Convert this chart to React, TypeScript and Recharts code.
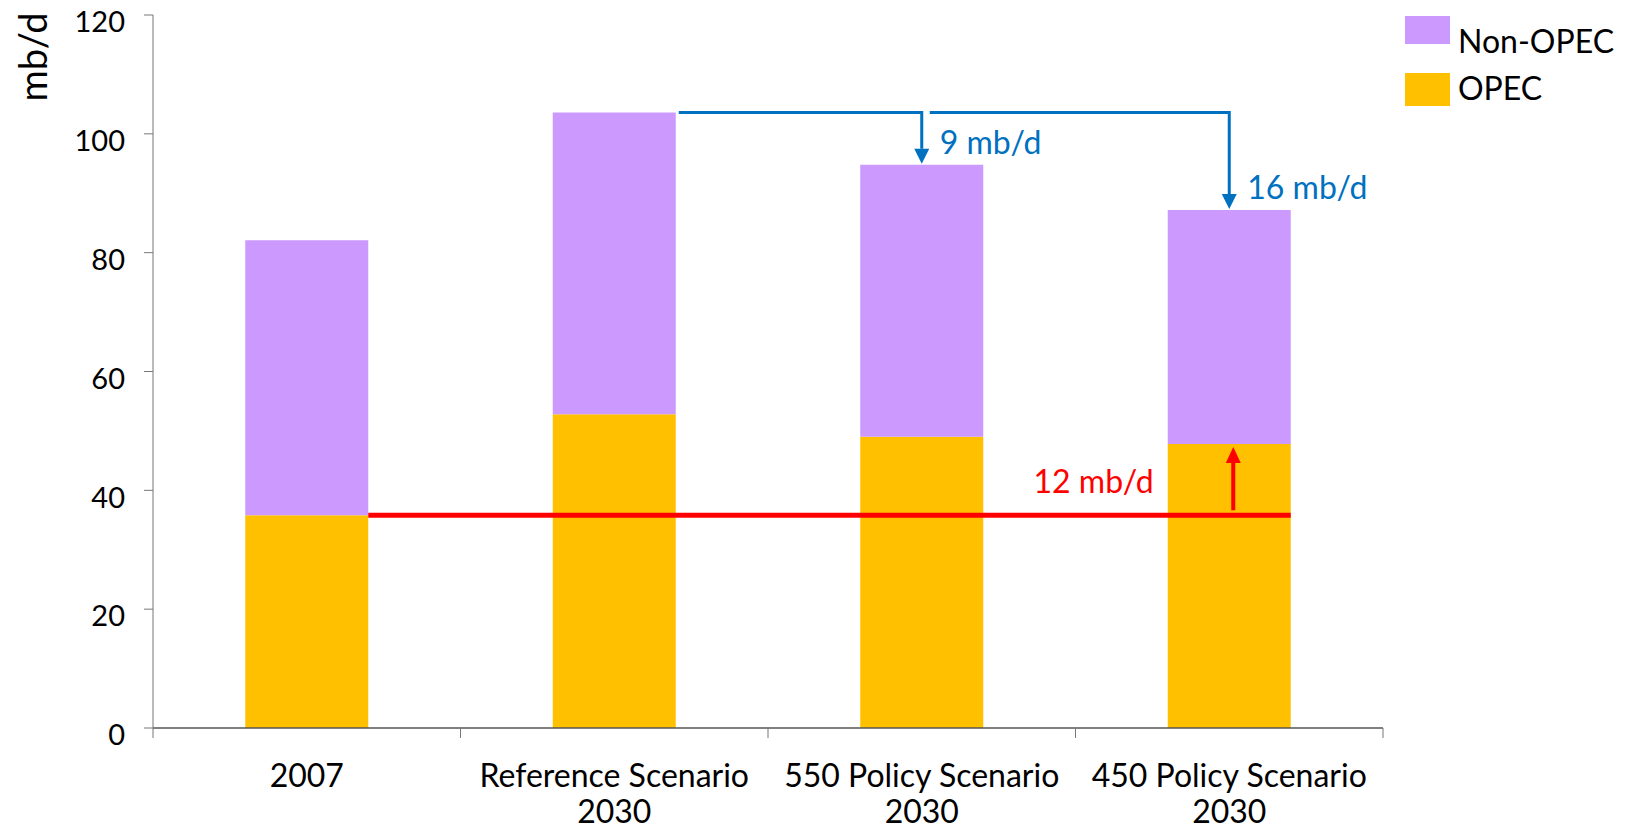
import React from 'react'
import { BarChart, Bar, XAxis, YAxis, Legend, ReferenceLine, Label } from 'recharts'

// Oil production by group, million barrels per day
const CATEGORIES = ['2007', 'Reference Scenario 2030', '550 Policy Scenario 2030', '450 Policy Scenario 2030']
const CATEGORY_LINES = [['2007'], ['Reference Scenario', '2030'], ['550 Policy Scenario', '2030'], ['450 Policy Scenario', '2030']]
const OPEC = [35.8, 52.8, 49.0, 47.8]
const NON_OPEC = [46.3, 50.8, 45.8, 39.4]
const Y_TICKS = [0, 20, 40, 60, 80, 100, 120]

const PURPLE = '#CC99FF'
const ORANGE = '#FFC000'
const BLUE = '#0070C0'
const RED = '#FF0000'
const FONT = 'Lato, "Open Sans", sans-serif'

const W = 1615
const H = 821
const MARGIN = { top: 7, right: 240, bottom: 0, left: 65 }
const Y_WIDTH = 80
const X_HEIGHT = 101
const PLOT_W = W - MARGIN.left - Y_WIDTH - MARGIN.right
const STEP = PLOT_W / CATEGORIES.length
const HALF_BAR = STEP * 0.2

const data = CATEGORIES.map((name, i) => ({ name, opec: OPEC[i], nonOpec: NON_OPEC[i] }))
const totals = OPEC.map((v, i) => v + NON_OPEC[i])

function CategoryTick(props: any) {
  const { x, y, payload } = props
  const half = payload?.offset || STEP / 2
  const lines = CATEGORY_LINES[payload.index] || [payload.value]
  const last = payload.index === CATEGORIES.length - 1
  return (
    <g>
      <line x1={x - half} y1={y} x2={x - half} y2={y + 10} stroke="#777" />
      {last && <line x1={x + half} y1={y} x2={x + half} y2={y + 10} stroke="#777" />}
      {lines.map((t: string, i: number) => (
        <text key={i} x={x} y={y + 59 + i * 36} textAnchor="middle" fill="#000" fontSize={32} fontFamily={FONT}>
          {t}
        </text>
      ))}
    </g>
  )
}

function ValueTick(props: any) {
  const { x, y, payload } = props
  return (
    <text x={x} y={y + 7} dy="0.355em" textAnchor="end" fill="#000" fontSize={29} fontFamily={FONT}>
      {payload.value}
    </text>
  )
}

// blue drop arrow: horizontal from the start point, then down to the lower bar
function dropArrow(startDx: number, label: string) {
  return (p: any) => {
    const { x1, y1, x2, y2 } = p
    const tipY = y2 - 1
    const headLen = 15
    return (
      <g>
        <path d={`M${x1 + startDx},${y1} H${x2} V${tipY - headLen}`} fill="none" stroke={BLUE} strokeWidth={3} />
        <polygon points={`${x2 - 7.5},${tipY - headLen} ${x2 + 7.5},${tipY - headLen} ${x2},${tipY}`} fill={BLUE} />
        <text x={x2 + 18} y={y2 - 23} dominantBaseline="central" fill={BLUE} fontSize={32} fontFamily={FONT}>
          {label}
        </text>
      </g>
    )
  }
}

function redBaseline(p: any) {
  const { x1, y1, x2 } = p
  return <line x1={x1 + HALF_BAR} y1={y1} x2={x2 + HALF_BAR} y2={y1} stroke={RED} strokeWidth={5} />
}

function redRise(p: any) {
  const { x1, y1, y2 } = p
  const x = x1 + 4
  const tipY = y2 + 3
  const headLen = 16
  return (
    <g>
      <line x1={x} y1={y1 - 5} x2={x} y2={tipY + headLen} stroke={RED} strokeWidth={4} />
      <polygon points={`${x - 7.5},${tipY + headLen} ${x + 7.5},${tipY + headLen} ${x},${tipY}`} fill={RED} />
      <text x={x1 - HALF_BAR - 14} y={y1 - 35} textAnchor="end" dominantBaseline="central" fill={RED} fontSize={32} fontFamily={FONT}>
        12 mb/d
      </text>
    </g>
  )
}

function LegendBox() {
  return (
    <svg width={230} height={110} style={{ display: 'block', overflow: 'visible' }}>
      <rect x={0} y={0} width={45} height={28} fill={PURPLE} />
      <text x={53} y={37} fontSize={32} fontFamily={FONT} fill="#000">Non-OPEC</text>
      <rect x={0} y={57} width={45} height={33} fill={ORANGE} />
      <text x={53} y={84} fontSize={32} fontFamily={FONT} fill="#000">OPEC</text>
    </svg>
  )
}

export default function App() {
  return (
    <div style={{ width: W, height: H, fontFamily: FONT }}>
      <BarChart width={W} height={H} data={data} margin={MARGIN} barCategoryGap="30%">
        <XAxis
          dataKey="name"
          height={X_HEIGHT}
          interval={0}
          tickSize={0}
          tickMargin={0}
          tickLine={false}
          axisLine={{ stroke: '#555', strokeWidth: 1.5 }}
          tick={<CategoryTick />}
        />
        <YAxis
          width={Y_WIDTH}
          domain={[0, 120]}
          ticks={Y_TICKS}
          interval={0}
          tickSize={9}
          tickMargin={19}
          axisLine={{ stroke: '#777' }}
          tickLine={{ stroke: '#777' }}
          tick={<ValueTick />}
        >
          <Label
            content={({ viewBox }: any) => (
              <text
                transform={`translate(${viewBox.x - 26},${viewBox.y + 42}) rotate(-90)`}
                textAnchor="middle"
                fontSize={38}
                fontFamily={FONT}
                fill="#000"
              >
                mb/d
              </text>
            )}
          />
        </YAxis>
        <Legend
          layout="horizontal"
          align="center"
          verticalAlign="middle"
          wrapperStyle={{ left: 1397, top: 8, width: 230, height: 110 }}
          content={() => <LegendBox />}
        />
        <Bar dataKey="opec" name="OPEC" stackId="a" fill={ORANGE} isAnimationActive={false} />
        <Bar dataKey="nonOpec" name="Non-OPEC" stackId="a" fill={PURPLE} isAnimationActive={false} />
        <ReferenceLine
          ifOverflow="visible"
          segment={[{ x: CATEGORIES[0], y: OPEC[0] }, { x: CATEGORIES[3], y: OPEC[0] }]}
          shape={redBaseline}
        />
        <ReferenceLine
          ifOverflow="visible"
          segment={[{ x: CATEGORIES[3], y: OPEC[0] }, { x: CATEGORIES[3], y: OPEC[3] }]}
          shape={redRise}
        />
        <ReferenceLine
          ifOverflow="visible"
          segment={[{ x: CATEGORIES[1], y: totals[1] }, { x: CATEGORIES[2], y: totals[2] }]}
          shape={dropArrow(HALF_BAR + 3, '9 mb/d')}
        />
        <ReferenceLine
          ifOverflow="visible"
          segment={[{ x: CATEGORIES[2], y: totals[1] }, { x: CATEGORIES[3], y: totals[3] }]}
          shape={dropArrow(8, '16 mb/d')}
        />
      </BarChart>
    </div>
  )
}
